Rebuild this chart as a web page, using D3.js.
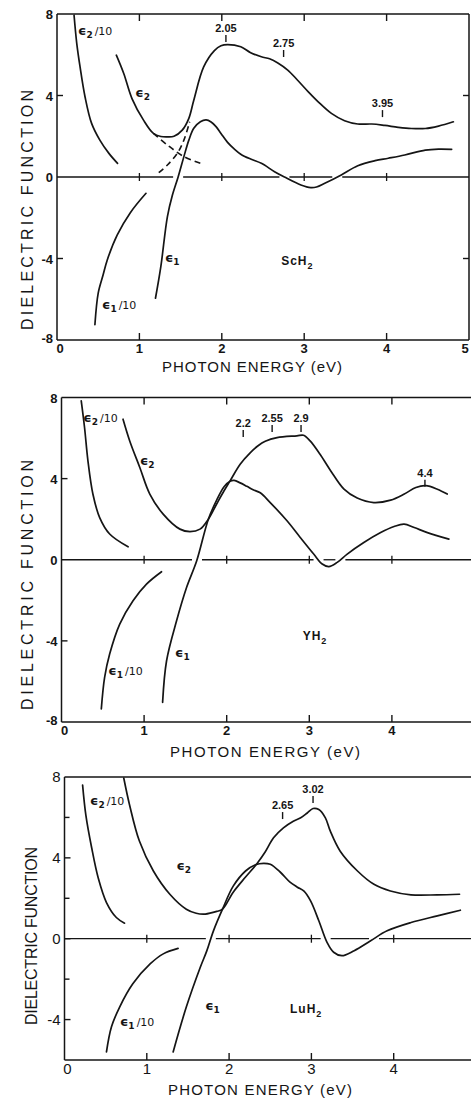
<!DOCTYPE html>
<html>
<head>
<meta charset="utf-8">
<script src="https://cdn.jsdelivr.net/npm/d3@7"></script>
<style>
  html, body { margin: 0; padding: 0; background: #fff; }
  svg { display: block; }
</style>
</head>
<body>
<svg id="chart" width="471" height="1099"></svg>
<script>
// ---- ScH2: [photon energy (eV), dielectric function] ----
const scEps2Over10 = [[0.207,7.94],[0.24,6.55],[0.28,5.4],[0.34,3.94],[0.42,2.63],[0.52,1.81],[0.63,1.16],[0.735,0.67]];
const scEps2 = [[0.72,5.98],[0.81,5.08],[0.91,3.85],[1.05,2.79],[1.17,2.14],[1.26,1.99],[1.34,1.97],[1.42,2.0],[1.52,2.3],[1.6,2.88],[1.66,3.77],[1.78,5.4],[1.91,6.2],[1.99,6.44],[2.07,6.5],[2.23,6.39],[2.35,6.1],[2.48,5.9],[2.58,5.8],[2.68,5.6],[2.8,5.25],[2.92,4.75],[3.05,4.18],[3.17,3.69],[3.33,3.12],[3.49,2.76],[3.65,2.6],[3.82,2.6],[3.98,2.53],[4.14,2.44],[4.3,2.38],[4.47,2.38],[4.63,2.5],[4.81,2.71]];
const scEps1 = [[1.195,-5.95],[1.26,-4.4],[1.34,-1.94],[1.40,-0.9],[1.47,0],[1.54,1.0],[1.6,1.81],[1.66,2.39],[1.74,2.71],[1.81,2.8],[1.87,2.7],[1.93,2.47],[1.99,2.14],[2.07,1.7],[2.15,1.38],[2.23,1.12],[2.35,0.88],[2.48,0.67],[2.64,0.26],[2.76,0.0],[2.96,-0.39],[3.08,-0.52],[3.15,-0.49],[3.25,-0.31],[3.45,0.1],[3.65,0.55],[3.86,0.8],[4.02,0.92],[4.22,1.08],[4.47,1.32],[4.63,1.37],[4.79,1.36]];
const scEps1Over10 = [[0.46,-7.25],[0.50,-5.7],[0.56,-4.8],[0.61,-4.07],[0.73,-2.85],[0.89,-1.75],[1.08,-0.8]];
const scEps2Extrap = [[1.17,2.14],[1.34,1.57],[1.54,1.0],[1.74,0.67]];
const scEps1Extrap = [[1.235,0.21],[1.34,0.59],[1.46,1.16],[1.54,1.81],[1.61,2.71]];
const scPeaks = [2.05, 2.75, 3.95];
const scPeakLevels = [6.63, 5.89, 2.94];

// ---- YH2 ----
const yEps2Over10 = [[0.239,7.83],[0.279,6.52],[0.32,4.88],[0.38,3.24],[0.462,2.08],[0.583,1.27],[0.806,0.64]];
const yEps2 = [[0.745,6.93],[0.826,5.86],[0.948,4.55],[1.069,3.24],[1.231,2.25],[1.434,1.51],[1.555,1.39],[1.677,1.51],[1.778,2.0],[1.88,2.76],[1.968,3.40],[2.041,3.89],[2.163,4.71],[2.284,5.27],[2.38,5.62],[2.467,5.84],[2.61,6.02],[2.85,6.11],[2.93,6.14],[3.01,5.86],[3.13,5.2],[3.26,4.38],[3.42,3.48],[3.58,3.04],[3.78,2.82],[3.985,2.94],[4.15,3.24],[4.29,3.56],[4.41,3.65],[4.55,3.48],[4.67,3.24]];
const yEps1 = [[1.224,-7.03],[1.272,-4.98],[1.394,-3.0],[1.515,-1.36],[1.637,-0.05],[1.778,2.0],[1.88,2.95],[1.968,3.6],[2.041,3.87],[2.09,3.91],[2.163,3.79],[2.244,3.62],[2.32,3.45],[2.406,3.3],[2.527,2.82],[2.73,1.92],[2.89,1.1],[3.053,0.28],[3.156,-0.21],[3.236,-0.34],[3.338,-0.13],[3.459,0.28],[3.66,0.85],[3.864,1.34],[4.026,1.64],[4.147,1.76],[4.27,1.59],[4.43,1.34],[4.69,1.02]];
const yEps1Over10 = [[0.482,-7.35],[0.522,-5.8],[0.583,-4.65],[0.705,-3.17],[0.866,-2.02],[1.029,-1.2],[1.211,-0.59]];
const yPeaks = [2.2, 2.55, 2.9, 4.4];
const yPeakLevels = [6.05, 6.3, 6.3, 3.6];

// ---- LuH2 ----
const luEps2Over10 = [[0.22,7.6],[0.26,6.1],[0.33,4.5],[0.41,3.0],[0.51,1.79],[0.63,1.05],[0.73,0.77]];
const luEps2 = [[0.72,7.95],[0.79,6.63],[0.91,4.83],[1.08,3.35],[1.28,2.2],[1.48,1.46],[1.6,1.26],[1.71,1.22],[1.85,1.35],[1.92,1.46],[2.05,2.3],[2.2,3.05],[2.34,3.72],[2.44,4.3],[2.54,4.99],[2.66,5.48],[2.78,5.81],[2.87,5.98],[2.95,6.22],[3.02,6.44],[3.09,6.39],[3.17,5.98],[3.23,5.32],[3.35,4.33],[3.56,3.35],[3.76,2.69],[3.96,2.36],[4.21,2.17],[4.53,2.17],[4.8,2.2]];
const luEps1 = [[1.32,-5.6],[1.48,-3.38],[1.65,-1.41],[1.73,-0.59],[1.81,0.39],[1.92,1.46],[2.05,2.6],[2.2,3.35],[2.32,3.66],[2.42,3.73],[2.5,3.68],[2.62,3.3],[2.74,2.8],[2.83,2.55],[2.91,2.35],[2.99,1.87],[3.09,0.89],[3.19,-0.18],[3.27,-0.67],[3.37,-0.84],[3.52,-0.59],[3.72,-0.1],[3.92,0.39],[4.21,0.8],[4.53,1.13],[4.81,1.41]];
const luEps1Over10 = [[0.51,-5.6],[0.57,-4.37],[0.67,-3.38],[0.83,-2.23],[1.04,-1.25],[1.2,-0.75],[1.38,-0.48]];
const luPeaks = [2.65, 3.02];
const luPeakLevels = [5.92, 6.71];

// ---- axis ticks ----
const xTicksSc = [0, 1, 2, 3, 4, 5];
const xTicksY = [0, 1, 2, 3, 4];
const xTicksLu = [0, 1, 2, 3, 4];
const yTicksWide = [8, 4, 0, -4, -8];
const yTicksLu = [8, 4, 0, -4];
const yMinorLu = [6, 2, -2];

const ink = "#151515";
const svg = d3.select("#chart");
svg.append("rect").attr("width", 471).attr("height", 1099).attr("fill", "#fff");

const panels = [
  {
    compound: "ScH", top: 14, bottom: 340, left: 57, right: 469, yDomain: [-8, 8],
    curves: [scEps2Over10, scEps2, scEps1, scEps1Over10], dashed: [scEps2Extrap, scEps1Extrap],
    eps1: scEps1, peaks: scPeaks, peakLevels: scPeakLevels,
    xTicks: xTicksSc, yTicks: yTicksWide, yMinor: [],
    frameTicksTop: [1, 2, 3, 4], frameTicksBottom: [1, 2, 3, 4], sideTicks: [4, -4], rightTicks: [4, -4],
    tickFont: 13, tickWeight: "bold", xLabelDy: 13,
    xTitle: { cx: 252, base: 372, len: 180 }, yTitle: { x: 33, cy: 210, len: 240 },
    labels: [
      { t: ["ϵ", "2", "/10"], e: 0.255, v: 6.97 },
      { t: ["ϵ", "2", ""], e: 0.95, v: 3.93 },
      { t: ["ϵ", "1", ""], e: 1.31, v: -4.17 },
      { t: ["ϵ", "1", "/10"], e: 0.546, v: -6.48 }
    ],
    compoundAt: { e: 2.72, v: -4.32 }
  },
  {
    compound: "YH", top: 397.5, bottom: 722, left: 61.5, right: 474.5, yDomain: [-8, 8],
    curves: [yEps2Over10, yEps2, yEps1, yEps1Over10], dashed: [],
    eps1: yEps1, peaks: yPeaks, peakLevels: yPeakLevels,
    xTicks: xTicksY, yTicks: yTicksWide, yMinor: [],
    frameTicksTop: [1, 2, 3, 4], frameTicksBottom: [1, 2, 3, 4], sideTicks: [4, -4], rightTicks: [],
    tickFont: 13, tickWeight: "bold", xLabelDy: 13,
    xTitle: { cx: 265, base: 757, len: 190 }, yTitle: { x: 33, cy: 585, len: 250 },
    labels: [
      { t: ["ϵ", "2", "/10"], e: 0.264, v: 6.79 },
      { t: ["ϵ", "2", ""], e: 0.95, v: 4.67 },
      { t: ["ϵ", "1", ""], e: 1.374, v: -4.8 },
      { t: ["ϵ", "1", "/10"], e: 0.567, v: -5.68 }
    ],
    compoundAt: { e: 2.92, v: -3.96 }
  },
  {
    compound: "LuH", top: 777, bottom: 1060, left: 64.5, right: 476, yDomain: [-6, 8],
    curves: [luEps2Over10, luEps2, luEps1, luEps1Over10], dashed: [],
    eps1: luEps1, peaks: luPeaks, peakLevels: luPeakLevels,
    xTicks: xTicksLu, yTicks: yTicksLu, yMinor: yMinorLu,
    frameTicksTop: [], frameTicksBottom: [1, 2, 3, 4], sideTicks: [4, 0, -4], rightTicks: [],
    tickFont: 15, tickWeight: "normal", xLabelDy: 14,
    xTitle: { cx: 260, base: 1095, len: 184 }, yTitle: { x: 37, cy: 936, len: 178 },
    labels: [
      { t: ["ϵ", "2", "/10"], e: 0.31, v: 6.62 },
      { t: ["ϵ", "2", ""], e: 1.36, v: 3.4 },
      { t: ["ϵ", "1", ""], e: 1.71, v: -3.53 },
      { t: ["ϵ", "1", "/10"], e: 0.674, v: -4.32 }
    ],
    compoundAt: { e: 2.74, v: -3.68 }
  }
];

const lineGen = (x, y) => d3.line()
  .x(d => x(d[0])).y(d => y(d[1]))
  .curve(d3.curveCatmullRom.alpha(0.5));

function seg(g, x1, y1, x2, y2, w) {
  g.append("line").attr("x1", x1).attr("y1", y1).attr("x2", x2).attr("y2", y2)
    .attr("stroke", ink).attr("stroke-width", w || 1.4);
}

// zero crossings of a sampled curve, by linear interpolation
function zeroCrossings(data) {
  const out = [];
  for (let i = 1; i < data.length; i++) {
    const [e0, v0] = data[i - 1], [e1, v1] = data[i];
    if (v0 === 0) { out.push(e0); continue; }
    if (v0 * v1 < 0) out.push(e0 + (e1 - e0) * (-v0) / (v1 - v0));
  }
  return out;
}

panels.forEach(p => {
  const x = d3.scaleLinear().domain([0, 5]).range([p.left, p.right]);
  const y = d3.scaleLinear().domain(p.yDomain).range([p.bottom, p.top]);
  const g = svg.append("g");

  // frame
  seg(g, p.left, p.top, p.right, p.top, 1.5);
  seg(g, p.left, p.bottom, p.right, p.bottom, 1.5);
  seg(g, p.left, p.top, p.left, p.bottom, 1.5);
  seg(g, p.right, p.top, p.right, p.bottom, 1.5);

  // frame ticks
  p.frameTicksTop.forEach(t => seg(g, x(t), p.top, x(t), p.top + 7));
  p.frameTicksBottom.forEach(t => seg(g, x(t), p.bottom, x(t), p.bottom - 7));
  p.sideTicks.forEach(t => seg(g, p.left, y(t), p.left + 6, y(t)));
  p.yMinor.forEach(t => seg(g, p.left, y(t), p.left + 5, y(t)));
  p.rightTicks.forEach(t => seg(g, p.right, y(t), p.right - 6, y(t)));

  // zero line, interrupted where eps1 passes through it
  const gaps = zeroCrossings(p.eps1).map(e => x(e));
  let start = p.left;
  gaps.sort((a, b) => a - b).forEach(gx => {
    seg(g, start, y(0), gx - 5, y(0), 1.3);
    start = gx + 5;
  });
  seg(g, start, y(0), p.right, y(0), 1.3);
  p.xTicks.filter(t => t > 0 && t < 5).forEach(t => seg(g, x(t), y(0) - 4, x(t), y(0) + 4, 1.3));

  // tick labels (the label at the right edge is kept inside the page)
  const tl = g.append("g").attr("font-family", "'Liberation Sans', Arial, sans-serif")
    .attr("font-size", p.tickFont).attr("font-weight", p.tickWeight).attr("fill", ink);
  p.xTicks.forEach(t => {
    const lx = Math.min(x(t) + (t === 0 ? 3 : 0), 465);
    tl.append("text").attr("x", lx).attr("y", p.bottom + p.xLabelDy)
      .attr("text-anchor", "middle").text(t);
  });
  p.yTicks.forEach(t => {
    tl.append("text").attr("x", p.left - 4).attr("y", y(t) + (t === p.yDomain[0] ? 3 : 5))
      .attr("text-anchor", "end").text(t);
  });

  // axis titles
  g.append("text").attr("x", p.xTitle.cx).attr("y", p.xTitle.base)
    .attr("text-anchor", "middle").attr("font-family", "'Liberation Sans', Arial, sans-serif")
    .attr("font-size", 15).attr("fill", ink)
    .attr("textLength", p.xTitle.len).attr("lengthAdjust", "spacing")
    .text("PHOTON  ENERGY  (eV)");
  g.append("text")
    .attr("transform", `translate(${p.yTitle.x},${p.yTitle.cy}) rotate(-90)`)
    .attr("text-anchor", "middle").attr("font-family", "'Liberation Sans', Arial, sans-serif")
    .attr("font-size", 16).attr("fill", ink)
    .attr("textLength", p.yTitle.len).attr("lengthAdjust", "spacing")
    .text("DIELECTRIC  FUNCTION");

  // curves
  const line = lineGen(x, y);
  p.curves.forEach(c => {
    g.append("path").attr("d", line(c)).attr("fill", "none")
      .attr("stroke", ink).attr("stroke-width", 1.7).attr("stroke-linecap", "round");
  });
  p.dashed.forEach(c => {
    g.append("path").attr("d", line(c)).attr("fill", "none")
      .attr("stroke", ink).attr("stroke-width", 1.6).attr("stroke-dasharray", "6,4");
  });

  // peak markers
  p.peaks.forEach((e, i) => {
    const py = y(p.peakLevels[i]);
    seg(g, x(e), py, x(e), py - 7, 1.4);
    g.append("text").attr("x", x(e)).attr("y", py - 10).attr("text-anchor", "middle")
      .attr("font-family", "'Liberation Sans', Arial, sans-serif").attr("font-weight", "bold")
      .attr("font-size", 11).attr("fill", ink).text(String(e));
  });

  // curve labels
  p.labels.forEach(l => {
    const t = g.append("text").attr("x", x(l.e)).attr("y", y(l.v))
      .attr("font-family", "'DejaVu Sans', sans-serif").attr("font-size", 13)
      .attr("font-weight", "bold").attr("fill", ink);
    t.append("tspan").text(l.t[0]);
    t.append("tspan").attr("font-size", 9).attr("dy", 3).text(l.t[1]);
    if (l.t[2]) t.append("tspan").attr("dy", -3).attr("dx", 2).attr("font-size", 11).attr("font-weight", "normal").text(l.t[2]);
  });

  // compound name
  const ct = g.append("text").attr("x", x(p.compoundAt.e)).attr("y", y(p.compoundAt.v))
    .attr("font-family", "'Liberation Sans', Arial, sans-serif").attr("font-size", 12)
    .attr("font-weight", "bold").attr("fill", ink).attr("letter-spacing", 1);
  ct.append("tspan").text(p.compound);
  ct.append("tspan").attr("font-size", 9).attr("dy", 4).text("2");
});
</script>
</body>
</html>
